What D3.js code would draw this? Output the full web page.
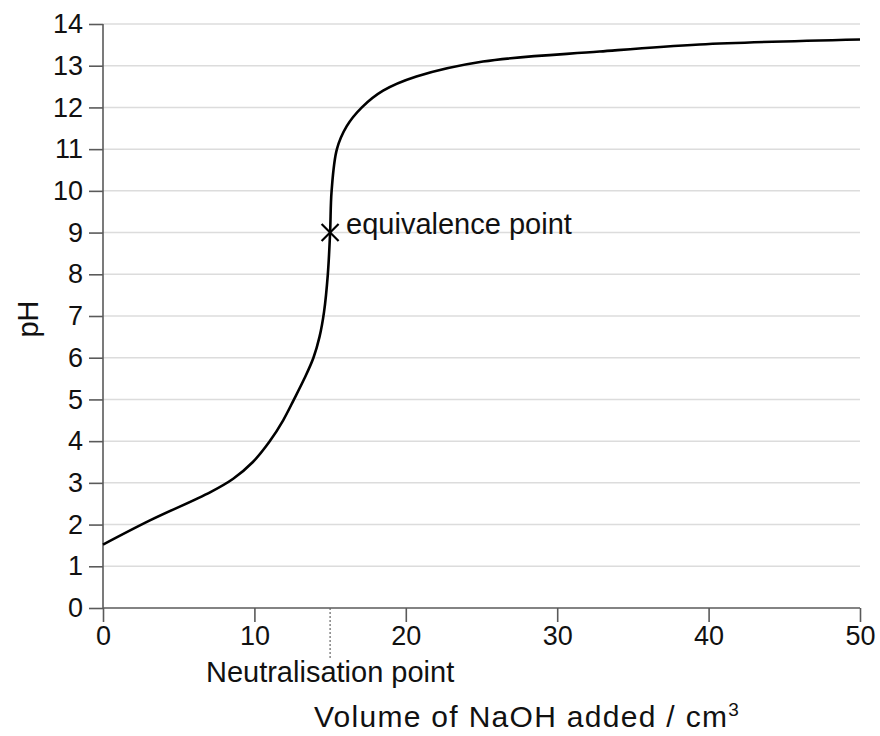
<!DOCTYPE html>
<html>
<head>
<meta charset="utf-8">
<script src="https://cdn.jsdelivr.net/npm/d3@7"></script>
<style>
  html, body { margin: 0; padding: 0; background: #fff; }
  svg { display: block; font-family: "Liberation Sans", Arial, Helvetica, sans-serif; }
</style>
</head>
<body>
<svg id="chart" width="880" height="736"></svg>
<script>
// Data
const volume = [0, 3.1, 7.1, 8.6, 9.9, 11.0, 11.9, 12.6, 13.3, 13.9, 14.3, 14.6, 14.85, 15.0, 15.1, 15.45, 16.1, 17.1, 18.5, 20.7, 25.1, 32.8, 39.4, 50];
const pH     = [1.52, 2.1, 2.78, 3.1, 3.5, 3.99, 4.5, 4.99, 5.5, 6.0, 6.5, 7.1, 8.0, 9.0, 10.0, 11.0, 11.55, 12.0, 12.4, 12.74, 13.1, 13.34, 13.51, 13.63];
const xTicks = [0, 10, 20, 30, 40, 50];
const yTicks = [0, 1, 2, 3, 4, 5, 6, 7, 8, 9, 10, 11, 12, 13, 14];
const equivalence = { volume: 15, pH: 9, label: "equivalence point" };
const neutralisation = { volume: 15, label: "Neutralisation point" };
const xTitle = "Volume of NaOH added / cm";
const xTitleSup = "3";
const yTitle = "pH";

const svg = d3.select("#chart");
const margin = { left: 103, right: 20, top: 24, bottom: 128 };
const W = 880, H = 736;
const x = d3.scaleLinear().domain([0, 50]).range([margin.left, W - margin.right]);
const y = d3.scaleLinear().domain([0, 14]).range([H - margin.bottom, margin.top]);

const axisColor = "#5a5a5a";

// gridlines
svg.append("g").selectAll("line").data(yTicks.filter(d => d > 0)).join("line")
  .attr("x1", x(0)).attr("x2", x(50))
  .attr("y1", d => y(d)).attr("y2", d => y(d))
  .attr("stroke", "#dcdcdc").attr("stroke-width", 1.5);

// y axis
const yAxis = svg.append("g").attr("transform", `translate(${x(0)},0)`)
  .call(d3.axisLeft(y).tickValues(yTicks).tickSize(14).tickPadding(6).tickFormat(d3.format("d")));
// x axis
const xAxis = svg.append("g").attr("transform", `translate(0,${y(0)})`)
  .call(d3.axisBottom(x).tickValues(xTicks).tickSize(14).tickPadding(4).tickFormat(d3.format("d")));

[yAxis, xAxis].forEach(g => {
  g.select(".domain").attr("stroke", axisColor).attr("stroke-width", 1.6);
  g.selectAll(".tick line").attr("stroke", axisColor).attr("stroke-width", 1.6);
  g.selectAll(".tick text").attr("fill", "#111").attr("font-size", 27).attr("font-family", "Liberation Sans, Arial, sans-serif");
});
yAxis.select(".domain").attr("d", `M0,${y(0)}V${y(14)}`);
xAxis.select(".domain").attr("d", `M${x(0)},0H${x(50)}`);

// neutralisation dotted line
svg.append("line")
  .attr("x1", x(neutralisation.volume)).attr("x2", x(neutralisation.volume))
  .attr("y1", y(0)).attr("y2", y(0) + 50)
  .attr("stroke", "#666").attr("stroke-width", 1.2).attr("stroke-dasharray", "2,2");

// curve
const data = volume.map((v, i) => [v, pH[i]]);
svg.append("path").datum(data)
  .attr("fill", "none").attr("stroke", "#000").attr("stroke-width", 2.6)
  .attr("d", d3.line().x(d => x(d[0])).y(d => y(d[1])).curve(d3.curveCatmullRom.alpha(0.5)));

// equivalence marker
const ex = x(equivalence.volume), ey = y(equivalence.pH);
const s = 8.5;
svg.append("path")
  .attr("d", `M${ex - s},${ey - s}L${ex + s},${ey + s}M${ex - s},${ey + s}L${ex + s},${ey - s}`)
  .attr("stroke", "#000").attr("stroke-width", 2.2);
svg.append("text").attr("x", ex + 16).attr("y", ey + 1)
  .attr("font-size", 29).attr("fill", "#111").text(equivalence.label);

// labels
svg.append("text").attr("x", x(neutralisation.volume)).attr("y", 682)
  .attr("text-anchor", "middle").attr("font-size", 29).attr("fill", "#111").text(neutralisation.label);
const xt = svg.append("text").attr("x", 527).attr("y", 727)
  .attr("text-anchor", "middle").attr("font-size", 30).attr("letter-spacing", 1.3).attr("fill", "#111");
xt.append("tspan").text(xTitle);
xt.append("tspan").attr("font-size", 19).attr("dy", -11).text(xTitleSup);
svg.append("text").attr("transform", `translate(38,319) rotate(-90)`)
  .attr("text-anchor", "middle").attr("font-size", 29).attr("fill", "#111").text(yTitle);
</script>
</body>
</html>
